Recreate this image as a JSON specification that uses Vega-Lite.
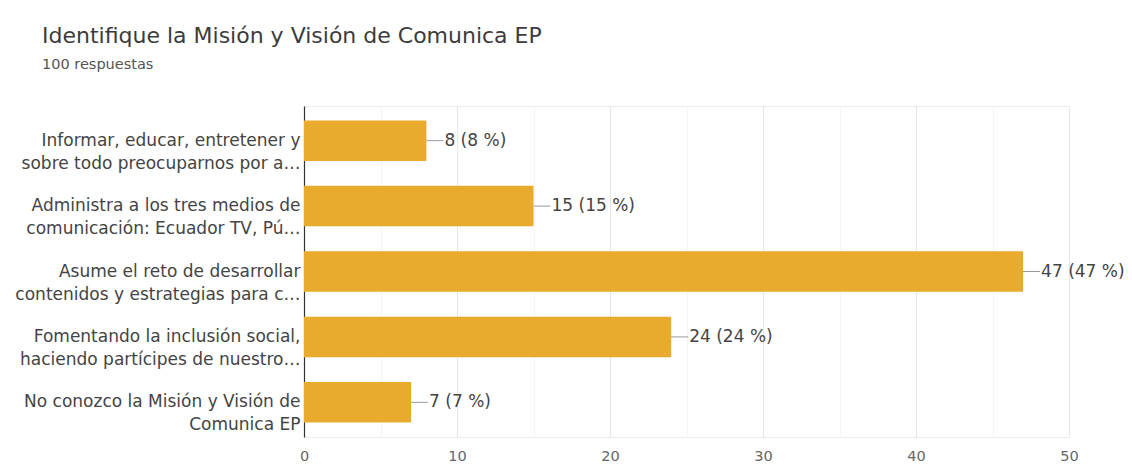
{
  "$schema": "https://vega.github.io/schema/vega-lite/v6.json",
  "autosize": "none",
  "width": 765,
  "height": 331,
  "padding": {"left": 304, "top": 106, "right": 63, "bottom": 27},
  "background": "white",
  "title": {
    "text": "Identifique la Misión y Visión de Comunica EP",
    "subtitle": "100 respuestas",
    "anchor": "start",
    "frame": "group",
    "dx": -262,
    "offset": 34,
    "font": "DejaVu Sans",
    "fontSize": 22,
    "fontWeight": "normal",
    "color": "#3c3c3c",
    "subtitleFont": "DejaVu Sans",
    "subtitleFontSize": 14.5,
    "subtitleColor": "#555555",
    "subtitlePadding": 10
  },
  "config": {
    "view": {"stroke": "#ececec"},
    "axis": {"labelFont": "DejaVu Sans"}
  },
  "data": {
    "values": [
      {"opcion": "Informar, educar, entretener y|sobre todo preocuparnos por a…", "respuestas": 8, "etiqueta": "8 (8 %)"},
      {"opcion": "Administra a los tres medios de|comunicación: Ecuador TV, Pú…", "respuestas": 15, "etiqueta": "15 (15 %)"},
      {"opcion": "Asume el reto de desarrollar|contenidos y estrategias para c…", "respuestas": 47, "etiqueta": "47 (47 %)"},
      {"opcion": "Fomentando la inclusión social,|haciendo partícipes de nuestro…", "respuestas": 24, "etiqueta": "24 (24 %)"},
      {"opcion": "No conozco la Misión y Visión de|Comunica EP", "respuestas": 7, "etiqueta": "7 (7 %)"}
    ]
  },
  "encoding": {
    "y": {
      "field": "opcion",
      "type": "nominal",
      "sort": null,
      "scale": {"paddingInner": 0.38, "paddingOuter": 0.22},
      "axis": {
        "title": null,
        "labelExpr": "split(datum.value, '|')",
        "labelFontSize": 17,
        "labelLineHeight": 23,
        "labelColor": "#444444",
        "labelPadding": 4,
        "labelLimit": 400,
        "ticks": false,
        "domainColor": "#333333",
        "domainWidth": 1.2,
        "grid": false
      }
    }
  },
  "layer": [
    {
      "mark": {"type": "bar", "color": "#E9AB2E"},
      "encoding": {
        "x": {
          "field": "respuestas",
          "type": "quantitative",
          "scale": {"domain": [0, 50], "nice": false},
          "axis": {
            "orient": "bottom",
            "title": null,
            "values": [5, 15, 25, 35, 45],
            "labels": false,
            "ticks": false,
            "domain": false,
            "grid": true,
            "gridColor": "#f4f4f4"
          }
        }
      }
    },
    {
      "mark": {"type": "rule", "color": "#9a9a9a", "x2Offset": 17, "strokeWidth": 1},
      "encoding": {
        "x": {
          "field": "respuestas",
          "type": "quantitative",
          "axis": {
            "orient": "bottom",
            "title": null,
            "values": [0, 10, 20, 30, 40, 50],
            "labelFontSize": 14.5,
            "labelColor": "#666666",
            "labelPadding": 12,
            "labelFlush": false,
            "ticks": false,
            "domain": false,
            "grid": true,
            "gridColor": "#e6e6e6"
          }
        },
        "x2": {"field": "respuestas"}
      }
    },
    {
      "mark": {"type": "text", "align": "left", "baseline": "middle", "dx": 18, "fontSize": 17, "font": "DejaVu Sans", "color": "#444444"},
      "encoding": {
        "x": {"field": "respuestas", "type": "quantitative", "axis": null},
        "text": {"field": "etiqueta"}
      }
    }
  ],
  "resolve": {"axis": {"x": "independent"}}
}
